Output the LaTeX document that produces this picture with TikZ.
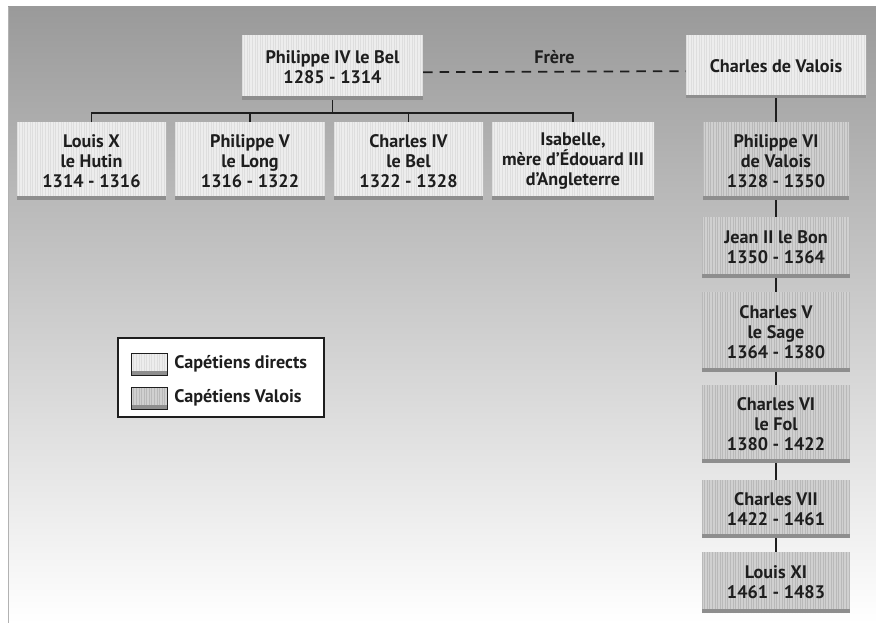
\documentclass[tikz,border=0pt]{standalone}
\usepackage{fontspec}
\setmainfont{PT Sans}
\usetikzlibrary{positioning}
\definecolor{Ink}{HTML}{1E1E1E}
\definecolor{Pale}{HTML}{EDEDED}
\definecolor{PaleLine}{HTML}{DEDEDE}
\definecolor{Mid}{HTML}{D0D0D0}
\definecolor{MidLine}{HTML}{B9B9B9}
\definecolor{Bevel}{HTML}{8E8E8E}
\definecolor{BgTop}{HTML}{9A9A9A}
\definecolor{BgMid}{HTML}{CBCBCB}
\tikzset{
    stripes/.style={path picture={
        \foreach \k in {0,...,72}
            \draw[#1, line width=0.5pt] ([xshift=\k*2.2pt]path picture bounding box.south west) -- ([xshift=\k*2.2pt]path picture bounding box.north west);
        \fill[Bevel] (path picture bounding box.south west) rectangle ([yshift=3pt]path picture bounding box.south east);
    }},
    directbox/.style={rectangle, fill=Pale, stripes=PaleLine, text=Ink, align=center, inner sep=2pt,
        font=\fontsize{15.5}{17.2}\selectfont\bfseries, minimum width=4.47cm, minimum height=2.34cm},
    valoisbox/.style={directbox, fill=Mid, stripes=MidLine, minimum width=4.44cm},
    link/.style={draw=Ink, line width=1.2pt},
    swatch/.style={rectangle, draw=Ink, line width=0.8pt, minimum width=1.1cm, minimum height=0.66cm},
    legtext/.style={text=Ink, font=\fontsize{15.5}{17.2}\selectfont\bfseries, inner sep=0pt},
}

\begin{document}
\begin{tikzpicture}[x=0.03cm, y=-0.03cm]
    \useasboundingbox (0,0) rectangle (876,623);
    % fond
    \shade[top color=BgTop, middle color=BgMid, bottom color=white] (8,7) rectangle (876,623);
    \draw[gray!60] (8,7) -- (8,623);

    % Capétiens directs
    \node[directbox, minimum width=5.43cm, minimum height=1.95cm] (philippeiv) at (332.5,67.5) {Philippe IV le Bel\\1285 - 1314};
    \node[directbox, minimum width=5.4cm, minimum height=1.9cm] (valois) at (776,66.5) {Charles de Valois};
    \node[directbox] (louisx) at (91.5,161) {Louis X\\le Hutin\\1314 - 1316};
    \node[directbox, minimum width=4.5cm] (philippev) at (250,161) {Philippe V\\le Long\\1316 - 1322};
    \node[directbox] (charlesiv) at (408.5,161) {Charles IV\\le Bel\\1322 - 1328};
    \node[directbox, minimum width=4.86cm] (isabelle) at (573,161) {Isabelle,\\mère d'Édouard III\\d'Angleterre};

    % Capétiens Valois
    \node[valoisbox, minimum width=4.38cm] (philippevi) at (776,161) {Philippe VI\\de Valois\\1328 - 1350};
    \node[valoisbox, minimum height=1.83cm] (jeanii) at (776,247.5) {Jean II le Bon\\1350 - 1364};
    \node[valoisbox, minimum height=2.4cm] (charlesv) at (776,332) {Charles V\\le Sage\\1364 - 1380};
    \node[valoisbox] (charlesvi) at (776,424) {Charles VI\\le Fol\\1380 - 1422};
    \node[valoisbox, minimum height=1.74cm] (charlesvii) at (776,509) {Charles VII\\1422 - 1461};
    \node[valoisbox, minimum height=1.83cm] (louisxi) at (776,582.5) {Louis XI\\1461 - 1483};

    % liens
    \coordinate (bar) at (332.5,113);
    \draw[link] (philippeiv.south) -- (bar);
    \draw[link] (louisx.north) -- (louisx.north |- bar) -- (isabelle.north |- bar) -- (isabelle.north);
    \foreach \n in {philippev, charlesiv}
        \draw[link] (\n.north) -- (\n.north |- bar);
    \draw[Ink, line width=1.5pt, dash pattern=on 8pt off 6pt] ([yshift=-4pt]philippeiv.east) -- ([yshift=-4pt]valois.west)
        node[midway, above=6pt, legtext] {Frère};
    \foreach \a/\b in {valois/philippevi, philippevi/jeanii, jeanii/charlesv, charlesv/charlesvi, charlesvi/charlesvii, charlesvii/louisxi}
        \draw[link] (\a.south) -- (\b.north);

    % légende
    \node[draw=Ink, fill=white, line width=1pt, minimum width=6.18cm, minimum height=2.37cm] (legend) at (221,377.5) {};
    \node[swatch, fill=Pale, stripes=PaleLine] (swdirect) at (149.5,364) {};
    \node[swatch, fill=Mid, stripes=MidLine] (swvalois) at (149.5,398) {};
    \node[right=5pt of swdirect, legtext] (txdirect) {Capétiens directs};
    \node[right=5pt of swvalois, legtext] (txvalois) {Capétiens Valois};
\end{tikzpicture}
\end{document}
